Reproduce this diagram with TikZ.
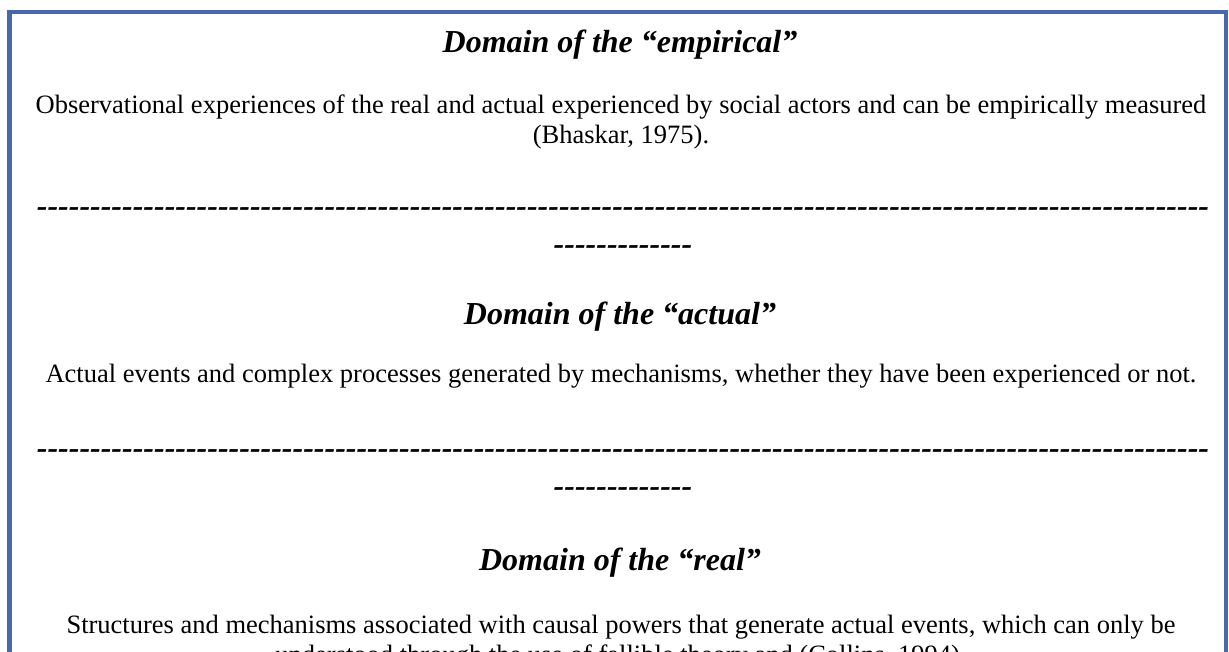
\documentclass[tikz,border=0pt]{standalone}
\usepackage{fontspec}
\setmainfont{Liberation Serif}
\definecolor{frameblue}{RGB}{72,104,174}
\newcommand\hyphenrow[1]{\foreach \k in {1,...,#1}{\mbox{-}}}

\begin{document}
\begin{tikzpicture}[x=1pt,y=-1pt,
	heading/.style={anchor=base,inner sep=0pt,font=\fontsize{32}{37}\selectfont\bfseries\itshape},
	bodytext/.style={anchor=base,inner sep=0pt,font=\fontsize{26.5}{30.5}\selectfont},
	dashrow/.style={heading}]
	\useasboundingbox (0,0) rectangle (1229,651);
	\clip (0,0) rectangle (1229,651);
	\draw[frameblue,line width=4.5pt] (9.5,700) -- (9.5,12) -- (1226,12) -- (1226,700);

	\node[heading] (empirical) at (620,52) {Domain of the “empirical”};
	\node[bodytext] (empiricalA) at (621,113) {Observational experiences of the real and actual experienced by social actors and can be empirically measured};
	\node[bodytext] (empiricalB) at (621,143) {(Bhaskar, 1975).};
	\node[dashrow] (cutA) at (623,216) {\hyphenrow{110}};
	\node[dashrow] (cutAb) at (623,254) {\hyphenrow{13}};

	\node[heading] (actual) at (620,324) {Domain of the “actual”};
	\node[bodytext] (actualA) at (621,382) {Actual events and complex processes generated by mechanisms, whether they have been experienced or not.};
	\node[dashrow] (cutB) at (623,458) {\hyphenrow{110}};
	\node[dashrow] (cutBb) at (623,496) {\hyphenrow{13}};

	\node[heading] (real) at (620,570) {Domain of the “real”};
	\node[bodytext] (realA) at (621,633) {Structures and mechanisms associated with causal powers that generate actual events, which can only be};
	\node[bodytext] (realB) at (621,663) {understood through the use of fallible theory and (Collins, 1994).};
\end{tikzpicture}
\end{document}
